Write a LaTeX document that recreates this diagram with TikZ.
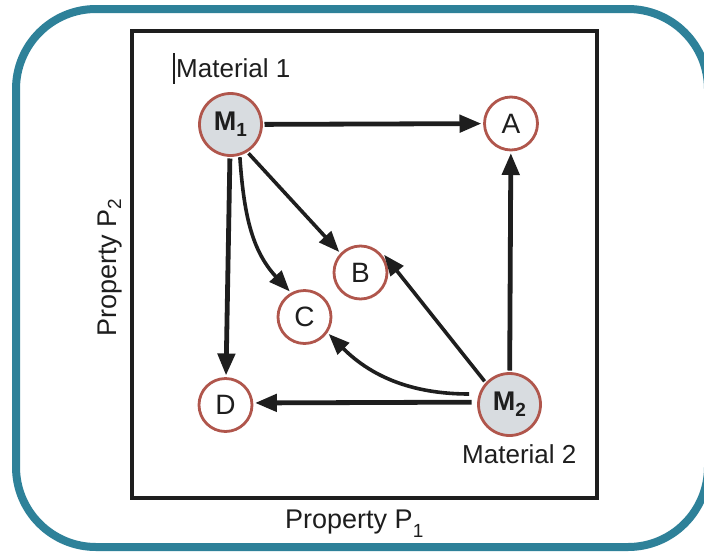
\documentclass[tikz,border=0pt]{standalone}
\usepackage{fontspec}
\setmainfont{Liberation Sans}
\usetikzlibrary{arrows.meta}
\definecolor{tealframe}{RGB}{46,129,153}
\definecolor{ring}{RGB}{176,86,76}
\definecolor{mfill}{RGB}{216,220,224}
\definecolor{ink}{RGB}{30,30,30}
\newcommand{\fsz}[1]{\fontsize{#1}{#1}\selectfont}
\newcommand{\sbs}[2]{\raisebox{-#1pt}{\fsz{19}#2}}
\begin{document}
\begin{tikzpicture}[x=1pt,y=-1pt,
  circ/.style={circle, draw=ring, line width=2.8pt, fill=white, minimum size=53pt,
    inner sep=0pt, outer sep=3pt, text=ink, font=\fsz{28}},
  mcirc/.style={circ, fill=mfill, minimum size=62pt, font=\fsz{27}\bfseries},
  arr/.style={draw=ink, line width=4.8pt, -{Triangle[length=22pt,width=17pt]}},
  carr/.style={draw=ink, line width=3.6pt, -{Triangle[length=21pt,width=16pt]}},
  lab/.style={font=\fsz{26}, inner sep=0pt, anchor=base west, text=ink}]
\useasboundingbox (0,0) rectangle (704,552);
\fill[white] (0,0) rectangle (704,552);
% outer frame
\draw[tealframe, line width=8pt, rounded corners=80pt] (16,9) rectangle (708,547);
% inner box
\draw[ink, line width=4pt] (132,31) rectangle (597,498);
% nodes
\node[mcirc] (m1) at (230.5,124.5) {M\sbs{6}{1}};
\node[circ]  (a)  at (511,123.5) {A};
\node[circ]  (b)  at (360.5,272.5) {B};
\node[circ]  (c)  at (304.5,317) {C};
\node[circ]  (d)  at (225.5,405) {D};
\node[mcirc] (m2) at (509.5,404.5) {M\sbs{6}{2}};
% labels
\node[lab] (l1) at (176,77) {Material 1};
\draw[ink, line width=1.6pt] (l1.west |- 0,53) ++(-2,0) -- ++(0,31);
\node[lab] (l2) at (462,463) {Material 2};
\node[lab, font=\fsz{27}] (p1) at (285,528) {Property P\sbs{9}{1}};
\node[lab, font=\fsz{27}, rotate=90] (p2) at (116,337) {Property P\sbs{5}{2}};
% connectors
\draw[arr] (m1) -- (a);
\draw[arr] (m1) -- (d);
\draw[carr] (m1.-58) -- (b.136);
\draw[carr] (m1.-74) to[out=-86,in=133] (c.120);
\draw[arr] (m2) -- (a);
\draw[carr] (m2.137) -- (b.37);
\draw[carr, shorten <=8pt] (m2.162) to[out=180,in=-45] (c.-35);
\draw[arr, shorten <=4pt] (m2.176) -- (d.4);
\end{tikzpicture}
\end{document}
